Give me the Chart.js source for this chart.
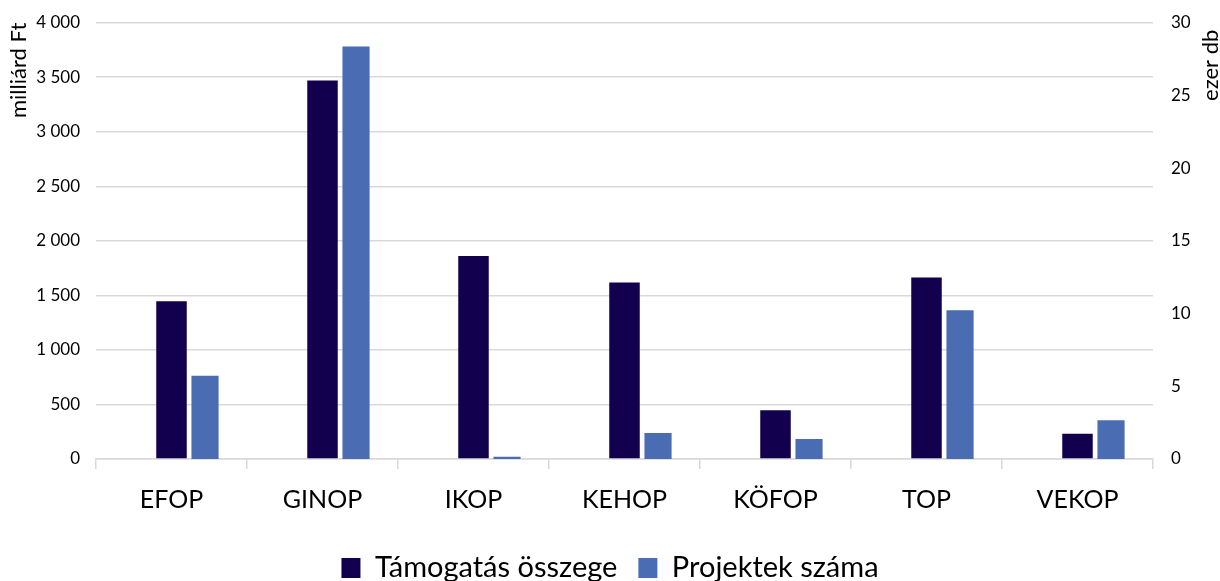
<!DOCTYPE html>
<html lang="hu">
<head>
<meta charset="utf-8">
<title>Támogatás összege és projektek száma</title>
<script src="https://cdn.jsdelivr.net/npm/chart.js@4.4.1/dist/chart.umd.min.js"></script>
<style>
  html, body { margin: 0; padding: 0; background: #fff; }
  canvas { display: block; }
</style>
</head>
<body>
<canvas id="chart" width="1220" height="581"></canvas>
<script>
// operatív programok
const categories = ['EFOP', 'GINOP', 'IKOP', 'KEHOP', 'KÖFOP', 'TOP', 'VEKOP'];
// támogatás összege, milliárd Ft (bal tengely)
const tamogatas = [1447, 3471, 1860, 1618, 446, 1664, 232];
// projektek száma, ezer db (jobb tengely)
const projektek = [5.73, 28.36, 0.16, 1.79, 1.38, 10.23, 2.66];
// üres segédsor (Excelben is így tolódnak el az oszlopok)
const spacer = [null, null, null, null, null, null, null];

const leftMax = 4000, leftStep = 500;
const rightMax = 30, rightStep = 5;

const FONT = 'Lato, "Open Sans", sans-serif';
const gridColor = '#d9d9d9';

// jobb oldali tengelycím alulról felfelé olvasva
const rightTitle = {
    id: 'rightTitle',
    afterDraw(chart) {
        const s = chart.scales.y1;
        const ctx = chart.ctx;
        ctx.save();
        ctx.translate(1211, s.top + 7);
        ctx.rotate(-Math.PI / 2);
        ctx.font = '22px ' + FONT;
        ctx.fillStyle = '#000';
        ctx.textAlign = 'right';
        ctx.textBaseline = 'middle';
        ctx.fillText('ezer db', 0, 0);
        ctx.restore();
    }
};

new Chart(document.getElementById('chart').getContext('2d'), {
    type: 'bar',
    data: {
        labels: categories,
        datasets: [
            {
                label: '',
                data: spacer,
                yAxisID: 'y',
                categoryPercentage: 0.666,
                barPercentage: 0.9
            },
            {
                label: 'Támogatás összege',
                data: tamogatas,
                yAxisID: 'y',
                backgroundColor: '#12004f',
                categoryPercentage: 0.666,
                barPercentage: 0.91
            },
            {
                label: 'Projektek száma',
                data: projektek,
                yAxisID: 'y1',
                backgroundColor: '#4a6cb3',
                categoryPercentage: 0.666,
                barPercentage: 0.81
            }
        ]
    },
    options: {
        responsive: false,
        animation: false,
        layout: { padding: { top: 22.7, left: 0, right: 0, bottom: -11.5 } },
        plugins: {
            legend: {
                position: 'bottom',
                labels: {
                    font: { family: FONT, size: 29 },
                    color: '#000',
                    boxWidth: 19,
                    boxHeight: 20,
                    padding: 21,
                    filter: item => item.text !== ''
                }
            },
            tooltip: { enabled: false }
        },
        scales: {
            x: {
                grid: {
                    drawOnChartArea: false,
                    color: gridColor,
                    lineWidth: 1.5,
                    tickLength: 10
                },
                border: { color: gridColor, width: 1.5 },
                ticks: {
                    font: { family: FONT, size: 25 },
                    color: '#000',
                    padding: 16
                },
                afterFit: s => { s.height = 73.5; }
            },
            y: {
                position: 'left',
                min: 0,
                max: leftMax,
                ticks: {
                    stepSize: leftStep,
                    font: { family: FONT, size: 17 },
                    color: '#000',
                    padding: 16,
                    callback: v => String(v).replace(/\B(?=(\d{3})+(?!\d))/g, ' ')
                },
                grid: { color: gridColor, lineWidth: 1.5, drawTicks: false },
                border: { display: false },
                title: {
                    display: true,
                    text: 'milliárd Ft',
                    align: 'end',
                    font: { family: FONT, size: 22 },
                    color: '#000',
                    padding: { top: 6, bottom: 0 }
                },
                afterFit: s => { s.width = 96; s.paddingTop = 0; s.paddingBottom = 0; }
            },
            y1: {
                position: 'right',
                min: 0,
                max: rightMax,
                ticks: {
                    stepSize: rightStep,
                    font: { family: FONT, size: 17 },
                    color: '#000',
                    padding: 18
                },
                grid: { display: false, drawTicks: false },
                border: { display: false },
                afterFit: s => { s.width = 67; s.paddingTop = 0; s.paddingBottom = 0; }
            }
        }
    },
    plugins: [rightTitle]
});
</script>
</body>
</html>
